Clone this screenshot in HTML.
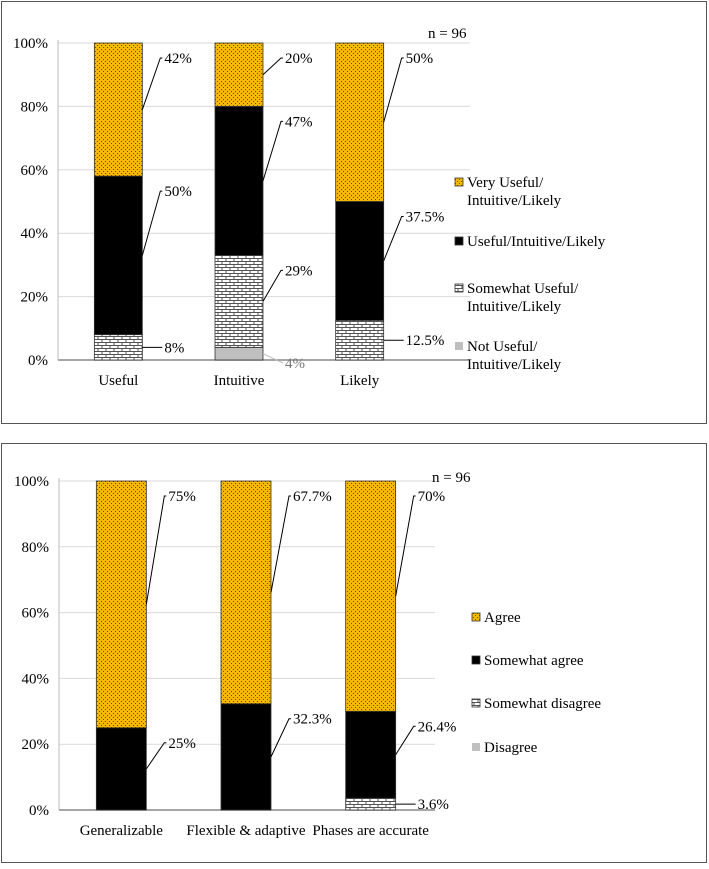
<!DOCTYPE html>
<html><head><meta charset="utf-8">
<style>
html,body{margin:0;padding:0;background:#fff;}
svg, svg text{font-family:"Liberation Serif","Times New Roman",serif;}
</style></head>
<body>
<svg id="chart" width="709" height="864" viewBox="0 0 709 864" font-family="Liberation Serif, serif">
<defs>
<pattern id="dots" width="4" height="4" patternUnits="userSpaceOnUse">
<rect width="4" height="4" fill="#f5b800"/><rect x="1" y="1" width="1" height="1" fill="#6b5200"/><rect x="3" y="3" width="1" height="1" fill="#6b5200"/>
</pattern>
<pattern id="brick" width="8" height="6" patternUnits="userSpaceOnUse">
<rect width="8" height="6" fill="#fff"/>
<path d="M0 0.5H8M0 3.5H8M2 0.5V3.5M6 3.5V6" stroke="#555" stroke-width="1"/>
</pattern>
</defs>
<rect x="1.5" y="1.5" width="705" height="422" fill="none" stroke="#555" stroke-width="1"/>
<rect x="1.5" y="443.5" width="705" height="419" fill="none" stroke="#555" stroke-width="1"/>
<g id="g1"></g>
<g id="g2"></g>
</svg>
<script>
// Chart 1 data
const cats1 = ["Useful","Intuitive","Likely"];
const notVals1 = [0,4,0];
const someVals1 = [8,29,12.5];
const usefulVals1 = [50,47,37.5];
const veryVals1 = [42,20,50];
const labels1 = [["","8%","50%","42%"],["4%","29%","47%","20%"],["","12.5%","37.5%","50%"]];
const legend1 = [["Very Useful/","Intuitive/Likely"],["Useful/Intuitive/Likely"],["Somewhat Useful/","Intuitive/Likely"],["Not Useful/","Intuitive/Likely"]];
// Chart 2 data
const cats2 = ["Generalizable","Flexible & adaptive","Phases are accurate"];
const disVals2 = [0,0,0];
const someDisVals2 = [0,0,3.6];
const someAgreeVals2 = [25,32.3,26.4];
const agreeVals2 = [75,67.7,70];
const labels2 = [["","","25%","75%"],["","","32.3%","67.7%"],["","3.6%","26.4%","70%"]];
const legend2 = [["Agree"],["Somewhat agree"],["Somewhat disagree"],["Disagree"]];
const yTicks = [0,20,40,60,80,100];
const fills = ["#bfbfbf","url(#brick)","#000","url(#dots)"];
const NS="http://www.w3.org/2000/svg";
const FF="Liberation Serif, serif";
function mk(p,t,a){const e=document.createElementNS(NS,t);for(const k in a)e.setAttribute(k,a[k]);if(t==='text')e.setAttribute('font-family',FF);p.appendChild(e);return e;}

function draw(g,cfg){
  const y=v=>cfg.y0-(cfg.y0-cfg.y100)*v/100;
  const step=(cfg.x1-cfg.x0)/cfg.cats.length;
  const xc=i=>cfg.x0+step*(i+0.5);
  yTicks.forEach(t=>{
    if(t>0){const l=mk(g,'line',{x1:cfg.x0,x2:cfg.gx,y1:y(t),y2:y(t),stroke:'#d9d9d9','stroke-width':1});
    
    }
    const tx=mk(g,'text',{x:cfg.x0-10,y:y(t)+5,'text-anchor':'end','font-size':15});
    tx.textContent=t+'%';
    
    
  });
  const ax=mk(g,'line',{x1:cfg.x0,x2:cfg.gx,y1:cfg.y0,y2:cfg.y0,stroke:'#888','stroke-width':1.5});
  
  
  const ay=mk(g,'line',{x1:cfg.x0,x2:cfg.x0,y1:cfg.y0,y2:y(100)-3,stroke:'#bbb','stroke-width':1});
  
  
  cfg.cats.forEach((c,i)=>{
    let cum=0;const bx=xc(i)-cfg.bw/2,br=xc(i)+cfg.bw/2;
    cfg.series.forEach((s,k)=>{
      const v=s[i];if(v<=0){cum+=v;return;}
      const top=y(cum+v),bot=y(cum);
      const r=mk(g,'rect',{x:bx,y:top,width:cfg.bw,height:bot-top,fill:fills[k],stroke:'#333','stroke-width':0.8});
      
      
      const lab=cfg.labels[i][k];
      if(lab){
        const mid=(top+bot)/2;let ly,lx=br+22;
        if(bot-top>40){ly=top+20;}else{ly=mid+(k===0?(cfg.y0-mid+8):5);}
        const col=k===0?'#bbb':'#000';
        if(bot-top>40){
          mk(g,'polyline',{points:`${br},${mid} ${br+18},${ly-5} ${lx-2},${ly-5}`,fill:'none',stroke:'#000','stroke-width':1});
        }else{
          mk(g,'line',{x1:br,y1:Math.min(mid,ly-5),x2:lx-2,y2:ly-5,stroke:col,'stroke-width':1});
        }
        const t=mk(g,'text',{x:lx,y:ly,'font-size':15,fill:k===0?'#777':'#000'});
        t.textContent=lab;
        
        
      }
      cum+=v;
    });
    const t=mk(g,'text',{x:xc(i),y:cfg.y0+25,'text-anchor':'middle','font-size':15});
    t.textContent=c;
    
    
  });
  const n=mk(g,'text',{x:cfg.nx,y:cfg.ny,'font-size':15});
  n.textContent='n = 96';
  
  
  const order=[3,2,1,0];
  cfg.legend.forEach((lines,j)=>{
    const k=order[j];const ly=cfg.ly[j];
    const sq=mk(g,'rect',{x:cfg.lx,y:ly-9,width:8,height:8,fill:fills[k],stroke:k===0?'none':'#333','stroke-width':0.8});
    
    
    lines.forEach((ln,m)=>{
      const t=mk(g,'text',{x:cfg.lx+12,y:ly+m*18,'font-size':15});
      t.textContent=ln;
      
      
    });
  });
}
draw(document.getElementById('g1'),{cats:cats1,series:[notVals1,someVals1,usefulVals1,veryVals1],labels:labels1,
 x0:58,x1:420,gx:470,y0:360,y100:43,bw:48,nx:428,ny:38,lx:455,ly:[187,246,293,351],legend:legend1});
draw(document.getElementById('g2'),{cats:cats2,series:[disVals2,someDisVals2,someAgreeVals2,agreeVals2],labels:labels2,
 x0:59,x1:433,gx:435,y0:810,y100:481,bw:50,nx:432,ny:482,lx:472,ly:[622,665,708,752],legend:legend2});
</script>
</body></html>
